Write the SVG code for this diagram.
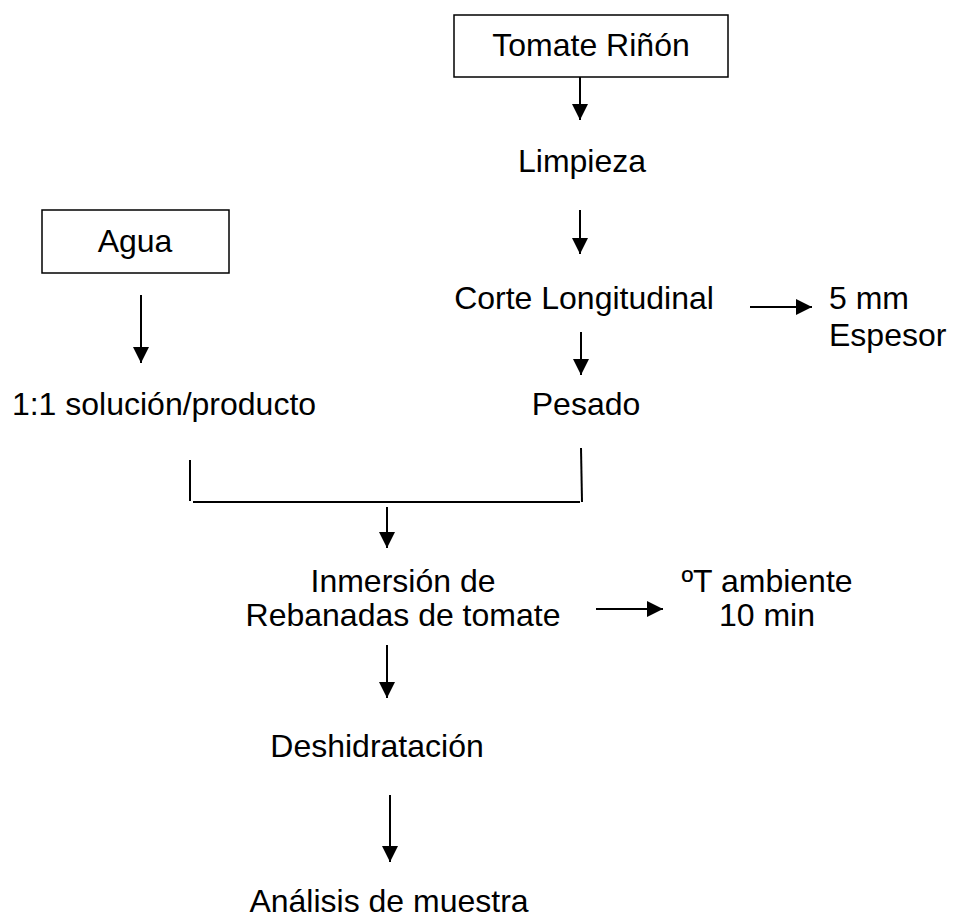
<svg xmlns="http://www.w3.org/2000/svg" width="958" height="918" viewBox="0 0 958 918">
<style>
text{font-family:"Liberation Sans",Arial,sans-serif;font-size:32px;fill:#000}
.c{text-anchor:middle}
.box{fill:#fff;stroke:#000;stroke-width:1.5}
.ln{stroke:#000;stroke-width:2;fill:none}
</style>
<defs>
<marker id="a" viewBox="0 0 16 16" refX="16" refY="8" markerWidth="16" markerHeight="16" markerUnits="userSpaceOnUse" orient="auto"><path d="M0,0 L16,8 L0,16 Z" fill="#000"/></marker>
</defs>
<rect width="958" height="918" fill="#fff"/>
<g id="tomate"><rect class="box" x="454" y="15" width="274" height="62"/><text class="c" x="591" y="56">Tomate Riñón</text></g>
<g id="limpieza"><text class="c" x="582" y="172">Limpieza</text></g>
<g id="agua"><rect class="box" x="42" y="210" width="187" height="63"/><text class="c" x="135" y="252">Agua</text></g>
<g id="corte"><text class="c" x="584" y="309">Corte Longitudinal</text></g>
<g id="espesor"><text x="829" y="309">5 mm</text><text x="829" y="346">Espesor</text></g>
<g id="solucion"><text class="c" x="164" y="415">1:1 solución/producto</text></g>
<g id="pesado"><text class="c" x="586" y="415">Pesado</text></g>
<g id="inmersion"><text class="c" x="403" y="592">Inmersión de</text><text class="c" x="403" y="626">Rebanadas de tomate</text></g>
<g id="temp"><text class="c" x="767" y="592">ºT ambiente</text><text class="c" x="767" y="626">10 min</text></g>
<g id="deshidratacion"><text class="c" x="377" y="757">Deshidratación</text></g>
<g id="analisis"><text class="c" x="389" y="912">Análisis de muestra</text></g>
<g id="connectors">
<line class="ln" x1="580" y1="77" x2="580" y2="120" marker-end="url(#a)"/>
<line class="ln" x1="580" y1="210" x2="580" y2="254" marker-end="url(#a)"/>
<line class="ln" x1="141" y1="295" x2="141" y2="363" marker-end="url(#a)"/>
<line class="ln" x1="750" y1="307" x2="812" y2="307" marker-end="url(#a)"/>
<line class="ln" x1="581" y1="332" x2="581" y2="375" marker-end="url(#a)"/>
<path class="ln" d="M190,460 V501"/>
<path class="ln" d="M193,502 H580"/>
<path class="ln" d="M581,448 L582,502"/>
<line class="ln" x1="387" y1="507" x2="387" y2="548" marker-end="url(#a)"/>
<line class="ln" x1="596" y1="609" x2="663" y2="609" marker-end="url(#a)"/>
<line class="ln" x1="387" y1="645" x2="387" y2="698" marker-end="url(#a)"/>
<line class="ln" x1="390" y1="795" x2="390" y2="862" marker-end="url(#a)"/>
</g>
</svg>
